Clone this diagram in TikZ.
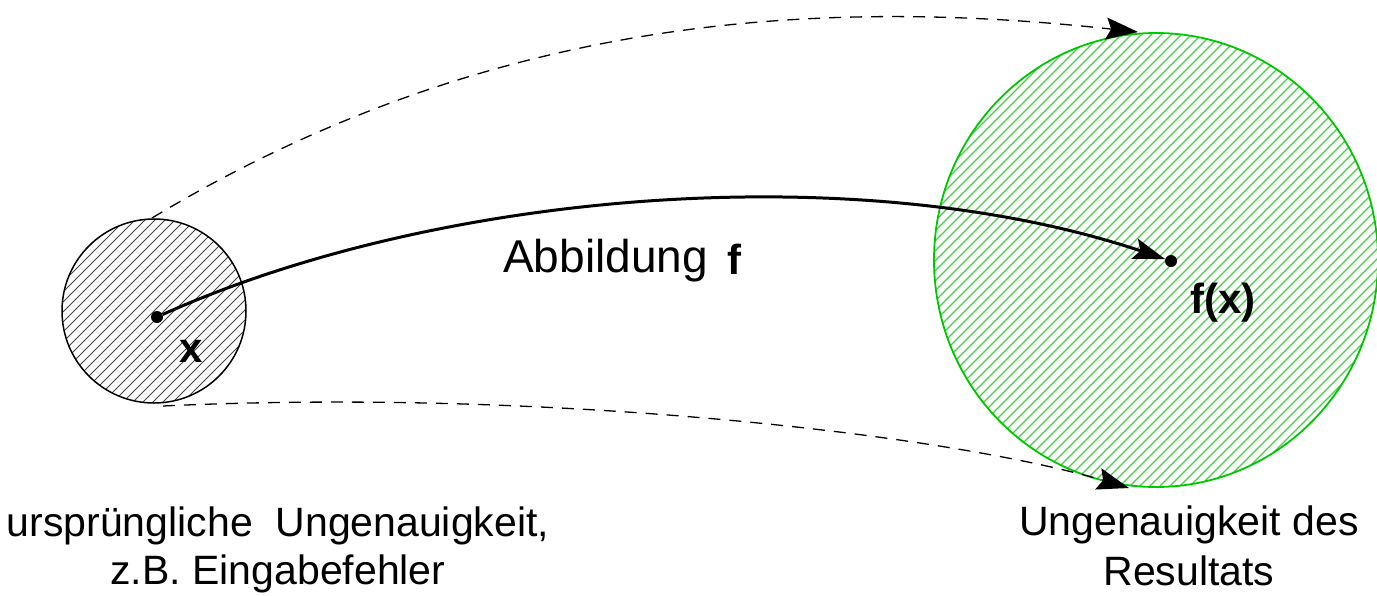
\documentclass[tikz,border=0pt]{standalone}
\usepackage{fontspec}
\setmainfont{Liberation Sans}
\usetikzlibrary{arrows.meta,shapes.geometric}
\definecolor{hgreen}{RGB}{0,200,0}
\definecolor{hlgreen}{RGB}{70,205,70}
\definecolor{hgray}{RGB}{70,70,70}
\begin{document}
\begin{tikzpicture}[x=1pt,y=-1pt,
  dot/.style={circle,fill=black,inner sep=0pt,minimum size=12pt},
  dasharrow/.style={dash pattern=on 12pt off 9pt, line width=1.3pt, -{Stealth[length=32pt,width=22pt,inset=5pt]}},
  mainarrow/.style={line width=3pt, -{Stealth[length=32pt,width=21pt,inset=6pt]}},
  lbl/.style={font=\fontsize{41}{47}\selectfont, inner sep=0pt},
  blbl/.style={font=\fontsize{42}{48}\selectfont\bfseries, inner sep=0pt}]
\useasboundingbox (0,0) rectangle (1377,595);
% hatching of the result region
\begin{scope}
  \clip (1156,260) ellipse [x radius=222, y radius=227];
  \foreach \t in {-520,-510,...,520}
    \draw[hlgreen, line width=1.1pt] (1156+\t-300,560) -- (1156+\t+300,-40);
\end{scope}
\node[ellipse, draw=hgreen, line width=1.8pt, minimum width=444pt, minimum height=454pt, inner sep=0pt] (res) at (1156,260) {};
% hatching of the input region
\begin{scope}
  \clip (154,311) circle [radius=92];
  \foreach \t in {-200,-190,...,200}
    \draw[hgray, line width=1pt] (154+\t-150,461) -- (154+\t+150,161);
\end{scope}
\node[circle, draw=black, line width=1.5pt, minimum size=184pt, inner sep=0pt] (inp) at (154,311) {};
% points
\node[dot] (x) at (157,317) {};
\node[dot] (fx) at (1171,261) {};
\coordinate (s1) at (152,218);
\coordinate (t1) at (1138,32);
\coordinate (s2) at (163,406);
\coordinate (t2) at (1129,488);
% connectors
\draw[dasharrow] (s1) .. controls (478,22) and (800,-5) .. (t1);
\draw[dasharrow] (s2) .. controls (550,388) and (950,435) .. (t2);
\draw[mainarrow] (x) .. controls (440,190) and (860,157) .. (fx);
% labels
\node[blbl, anchor=base] (xl) at (191,362) {x};
\node[blbl, anchor=base] (fxl) at (1223,313) {f(x)};
\node[lbl, anchor=base west, font=\fontsize{46}{52}\selectfont] (abb) at (503,272) {Abbildung};
\node[blbl, anchor=base west] (fl) at (727,274) {f};
\node[lbl, anchor=base] (o1) at (278,536) {ursprüngliche\ \ Ungenauigkeit,};
\node[lbl, anchor=base] (o2) at (278,584) {z.B. Eingabefehler};
\node[lbl, anchor=base] (r1) at (1189,535) {Ungenauigkeit des};
\node[lbl, anchor=base] (r2) at (1189,585) {Resultats};
\end{tikzpicture}
\end{document}
